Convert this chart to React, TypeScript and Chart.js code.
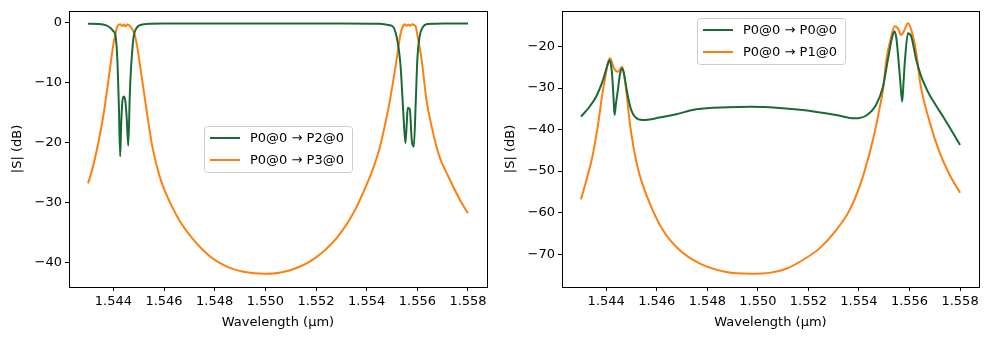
import React, { useEffect, useRef } from "react";
import { Chart, registerables } from "chart.js";

Chart.register(...registerables);

const GREEN = "#1a6a37";
const ORANGE = "#ff7f0e";
const FONT = "DejaVu Sans";

// ---------- shared axis ----------
const xTicks = [1.544, 1.546, 1.548, 1.55, 1.552, 1.554, 1.556, 1.558];
const xMin = 1.54225;
const xMax = 1.55875;

// ---------- left panel ----------
const leftLabels = ["P0@0 \u2192 P2@0", "P0@0 \u2192 P3@0"];
const leftYTicks = [0, -10, -20, -30, -40];

const leftGreenX = [
  1.543, 1.5434, 1.5437, 1.5439, 1.544, 1.54408, 1.54413, 1.54417, 1.54422, 1.54427,
  1.54431, 1.54435, 1.5444, 1.54447, 1.54453, 1.54459, 1.54465, 1.5447, 1.54476, 1.5448,
  1.5449, 1.545, 1.5452, 1.5455, 1.546, 1.547, 1.55, 1.553, 1.5545, 1.5549,
  1.55505, 1.55518, 1.55527, 1.55534, 1.55544, 1.55553, 1.55558, 1.55562, 1.5557, 1.55578,
  1.55586, 1.55594, 1.556, 1.55609, 1.55622, 1.5564, 1.5567, 1.5575, 1.558,
];
const leftGreenY = [
  -0.15, -0.2, -0.4, -0.9, -1.4, -2.0, -4.0, -7.3, -14.0, -22.3,
  -17.0, -13.5, -12.3, -12.9, -16.0, -20.5, -12.0, -7.4, -4.0, -2.3,
  -1.0, -0.5, -0.25, -0.15, -0.1, -0.1, -0.1, -0.1, -0.15, -0.4,
  -0.7, -2.3, -4.5, -7.3, -14.5, -20.1, -17.0, -14.2, -14.4, -19.6,
  -20.7, -12.9, -6.2, -2.3, -0.7, -0.2, -0.15, -0.1, -0.1,
];

const leftOrangeX = [
  1.543, 1.54316, 1.54335, 1.54362, 1.54388, 1.54398, 1.54408, 1.54415, 1.54421, 1.54428,
  1.54435, 1.54442, 1.54448, 1.54455, 1.54462, 1.5447, 1.54483, 1.54495, 1.54506, 1.54532,
  1.54552, 1.54572, 1.5459, 1.54625, 1.54664, 1.54716, 1.54782, 1.54848, 1.54913, 1.54999,
  1.55098, 1.55189, 1.55282, 1.55347, 1.554, 1.55428, 1.55452, 1.55475, 1.55492, 1.55518,
  1.55534, 1.55544, 1.5555, 1.55557, 1.55565, 1.55572, 1.5558, 1.55588, 1.55594, 1.55599,
  1.55617, 1.55636, 1.55655, 1.55675, 1.55695, 1.55715, 1.55741, 1.5577, 1.558,
];
const leftOrangeY = [
  -26.8, -24.6, -21.2, -15.1, -7.3, -4.2, -1.8, -0.7, -0.3, -0.25,
  -0.55, -0.3, -0.6, -0.3, -0.4, -0.8, -1.8, -4.2, -7.3, -14.8,
  -20.2, -24.0, -26.6, -30.1, -33.2, -36.2, -39.0, -40.7, -41.55, -41.9,
  -41.3, -39.5, -35.9, -31.8, -27.0, -24.0, -20.8, -16.5, -12.9, -6.2,
  -1.8, -0.5, -0.25, -0.5, -0.3, -0.5, -0.25, -0.4, -0.7, -1.8,
  -6.2, -12.9, -17.0, -20.6, -23.2, -25.0, -27.3, -29.7, -31.8,
];

// ---------- right panel ----------
const rightLabels = ["P0@0 \u2192 P0@0", "P0@0 \u2192 P1@0"];
const rightYTicks = [-20, -30, -40, -50, -60, -70];

const rightGreenX = [
  1.543, 1.54334, 1.5436, 1.54387, 1.54405, 1.54413, 1.54419, 1.54424, 1.54429, 1.54433,
  1.54438, 1.54446, 1.54455, 1.54463, 1.5447, 1.54479, 1.54489, 1.54499, 1.54515, 1.54545,
  1.54611, 1.54677, 1.54756, 1.5488, 1.5497, 1.55046, 1.55178, 1.5531, 1.55383, 1.55429,
  1.55468, 1.55495, 1.55514, 1.55532, 1.55541, 1.55548, 1.55554, 1.55563, 1.55571, 1.55577,
  1.55582, 1.55594, 1.55607, 1.55627, 1.55647, 1.55666, 1.55679, 1.55706, 1.55732, 1.55758,
  1.558,
];
const rightGreenY = [
  -36.9, -34.5, -32.1, -28.1, -24.5, -23.3, -24.5, -27.3, -32.5, -36.5,
  -34.0, -30.5, -26.5, -25.3, -26.5, -29.7, -33.0, -35.3, -37.0, -37.7,
  -37.1, -36.3, -35.1, -34.6, -34.5, -34.6, -35.3, -36.5, -37.3, -36.6,
  -34.0, -29.7, -23.3, -17.6, -16.4, -18.0, -21.6, -28.0, -33.3, -28.0,
  -23.3, -16.8, -17.6, -23.3, -27.3, -30.0, -31.6, -34.3, -36.8, -39.4,
  -43.7,
];

const rightOrangeX = [
  1.543, 1.54321, 1.54347, 1.54367, 1.54387, 1.54396, 1.54406, 1.54416, 1.54423, 1.54429,
  1.54446, 1.54463, 1.54472, 1.54479, 1.54492, 1.54499, 1.54516, 1.54532, 1.54571, 1.54624,
  1.5469, 1.54769, 1.54875, 1.54974, 1.55046, 1.55112, 1.55178, 1.55244, 1.5531, 1.55363,
  1.55402, 1.55442, 1.55468, 1.55481, 1.55495, 1.55508, 1.55528, 1.55541, 1.55554, 1.55567,
  1.5558, 1.55594, 1.55607, 1.55627, 1.55643, 1.55679, 1.55719, 1.55758, 1.558,
];
const rightOrangeY = [
  -56.8, -52.3, -46.0, -39.0, -30.5, -27.5, -24.0, -22.8, -23.8, -25.0,
  -26.1, -24.9, -27.3, -30.5, -37.7, -40.9, -46.8, -50.9, -57.6, -64.2,
  -69.0, -72.2, -74.3, -74.7, -74.5, -73.5, -71.4, -68.6, -64.2, -59.4,
  -53.8, -45.7, -39.0, -35.0, -30.5, -23.3, -17.6, -15.1, -15.6, -17.2,
  -16.0, -14.4, -16.0, -21.6, -29.0, -38.0, -45.5, -50.8, -55.2,
];

const toPoints = (xs: number[], ys: number[]) => xs.map((x, i) => ({ x, y: ys[i] }));

const frame = {
  id: "frame",
  afterDatasetsDraw(chart: any) {
    const { ctx, chartArea: a } = chart;
    ctx.save();
    ctx.strokeStyle = "#000";
    ctx.lineWidth = 1;
    ctx.strokeRect(Math.round(a.left) + 0.5, Math.round(a.top) + 0.5, Math.round(a.right - a.left), Math.round(a.bottom - a.top));
    ctx.restore();
  },
};

const boxLegend = {
  id: "boxLegend",
  afterDraw(chart: any, _args: any, opts: any) {
    const { ctx, chartArea: a } = chart;
    const items = chart.data.datasets;
    ctx.save();
    ctx.font = `13px "${FONT}"`;
    const textW = Math.max(...items.map((d: any) => ctx.measureText(d.label).width));
    const pad = 6, lineLen = 30, gap = 10, rowH = 22;
    const w = Math.round(pad + lineLen + gap + textW + pad + 2);
    const h = rowH * items.length + 2;
    const x = Math.round((a.left + a.right) / 2 - w / 2);
    const y = Math.round(opts.loc === "top" ? a.top + 7 : (a.top + a.bottom) / 2 - h / 2);
    ctx.beginPath();
    (ctx as any).roundRect(x + 0.5, y + 0.5, w, h, 3);
    ctx.fillStyle = "rgba(255,255,255,0.8)";
    ctx.fill();
    ctx.strokeStyle = "#cccccc";
    ctx.lineWidth = 1;
    ctx.stroke();
    items.forEach((d: any, i: number) => {
      const cy = y + 12 + i * rowH;
      ctx.beginPath();
      ctx.strokeStyle = d.borderColor;
      ctx.lineWidth = 2;
      ctx.moveTo(x + pad, cy);
      ctx.lineTo(x + pad + lineLen, cy);
      ctx.stroke();
      ctx.fillStyle = "#000";
      ctx.textBaseline = "middle";
      ctx.textAlign = "left";
      ctx.fillText(d.label, x + pad + lineLen + gap, cy + 1);
    });
    ctx.restore();
  },
};

function makeConfig(
  labels: string[],
  greenPts: { x: number; y: number }[],
  orangePts: { x: number; y: number }[],
  yTicks: number[],
  yMin: number,
  yMax: number,
  legendLoc: string,
  yAxisWidth: number,
  padRight: number,
  yTitlePad: number
): any {
  const ds = (label: string, data: any, color: string) => ({
    label,
    data,
    borderColor: color,
    backgroundColor: color,
    borderWidth: 2,
    pointRadius: 0,
    fill: false,
    cubicInterpolationMode: "monotone",
  });
  return {
    type: "line",
    data: {
      datasets: [ds(labels[0], greenPts, GREEN), ds(labels[1], orangePts, ORANGE)],
    },
    options: {
      responsive: false,
      animation: false,
      devicePixelRatio: 1,
      layout: { padding: { left: 0, right: padRight, top: 10, bottom: 0 } },
      plugins: {
        legend: { display: false },
        tooltip: { enabled: false },
        boxLegend: { loc: legendLoc },
      },
      scales: {
        x: {
          type: "linear",
          min: xMin,
          max: xMax,
          afterBuildTicks: (s: any) => {
            s.ticks = xTicks.map((v) => ({ value: v }));
          },
          afterFit: (s: any) => {
            s.height = 53;
          },
          ticks: {
            autoSkip: false,
            maxRotation: 0,
            minRotation: 0,
            padding: 3,
            color: "#000",
            font: { family: FONT, size: 13 },
            callback: (v: number) => v.toFixed(3),
          },
          grid: { drawOnChartArea: false, drawTicks: true, tickLength: 4, color: "#000" },
          border: { display: false },
          title: {
            display: true,
            text: "Wavelength (\u00b5m)",
            color: "#000",
            font: { family: FONT, size: 13 },
            padding: { top: 0, bottom: 10 },
          },
        },
        y: {
          type: "linear",
          min: yMin,
          max: yMax,
          afterBuildTicks: (s: any) => {
            s.ticks = yTicks.map((v) => ({ value: v }));
          },
          afterFit: (s: any) => {
            s.width = yAxisWidth;
          },
          ticks: {
            padding: 3,
            color: "#000",
            font: { family: FONT, size: 13 },
            callback: (v: number) => (v === 0 ? "0" : (v < 0 ? "\u2212" : "") + Math.abs(v)),
          },
          grid: { drawOnChartArea: false, drawTicks: true, tickLength: 4, color: "#000" },
          border: { display: false },
          title: {
            display: true,
            text: "|S| (dB)",
            color: "#000",
            font: { family: FONT, size: 13 },
            padding: { top: yTitlePad, bottom: 0 },
          },
        },
      },
    },
    plugins: [frame, boxLegend],
  };
}

function Panel({ left, config }: { left: number; config: any }) {
  const ref = useRef<HTMLCanvasElement>(null);
  useEffect(() => {
    const chart = new Chart(ref.current as HTMLCanvasElement, config);
    return () => chart.destroy();
  }, []);
  return (
    <canvas
      ref={ref}
      width={495}
      height={340}
      style={{ position: "absolute", left, top: 0, width: 495, height: 340 }}
    />
  );
}

export default function App() {
  const leftCfg = makeConfig(
    leftLabels,
    toPoints(leftGreenX, leftGreenY),
    toPoints(leftOrangeX, leftOrangeY),
    leftYTicks,
    -44.1,
    2.0,
    "center",
    69,
    8,
    10
  );
  const rightCfg = makeConfig(
    rightLabels,
    toPoints(rightGreenX, rightGreenY),
    toPoints(rightOrangeX, rightOrangeY),
    rightYTicks,
    -77.9,
    -11.4,
    "top",
    67,
    11,
    8
  );
  return (
    <div style={{ position: "absolute", left: 0, top: 0, width: 990, height: 340, background: "#fff" }}>
      <Panel left={0} config={leftCfg} />
      <Panel left={495} config={rightCfg} />
    </div>
  );
}
